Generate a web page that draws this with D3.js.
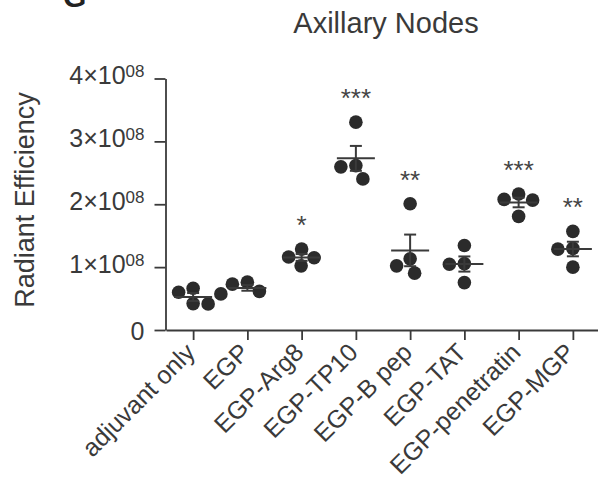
<!DOCTYPE html>
<html>
<head>
<meta charset="utf-8">
<script src="https://cdn.jsdelivr.net/npm/d3@7"></script>
<style>
  body { margin: 0; background: #fff; }
  text { font-family: "Liberation Sans", Arial, sans-serif; }
</style>
</head>
<body>
<svg id="chart" width="598" height="477"></svg>
<script>
// groups along the x axis
const groups = ['adjuvant only', 'EGP', 'EGP-Arg8', 'EGP-TP10', 'EGP-B pep', 'EGP-TAT', 'EGP-penetratin', 'EGP-MGP'];

// radiant efficiency, in units of 1e8
const adjuvantOnly = [0.665, 0.60, 0.42, 0.415];
const egp = [0.761, 0.729, 0.614, 0.574];
const egpArg8 = [1.287, 1.16, 1.15, 1.02];
const egpTP10 = [3.306, 2.615, 2.595, 2.403];
const egpBpep = [2.008, 1.132, 1.020, 0.904];
const egpTAT = [1.344, 1.055, 1.045, 0.754];
const egpPenetratin = [2.163, 2.078, 2.066, 1.807];
const egpMGP = [1.568, 1.298, 1.286, 1.0];

const groupValues = [adjuvantOnly, egp, egpArg8, egpTP10, egpBpep, egpTAT, egpPenetratin, egpMGP];
const stars = ['', '', '*', '***', '**', '', '***', '**'];

const yTicks = [0, 1, 2, 3, 4];
const exponent = '08';

const svg = d3.select('#chart');
const ink = '#3a3a3a';

const x = d3.scalePoint().domain(groups).range([166, 600]).padding(0.5);
const y = d3.scaleLinear().domain([0, 4]).range([330, 78.5]);

// panel letter (cut off at the top, as in the source figure)
svg.append('text')
  .attr('x', 63).attr('y', 7)
  .attr('font-size', 30).attr('font-weight', 'bold')
  .attr('fill', '#222')
  .text('G');

// title
svg.append('text')
  .attr('x', 386).attr('y', 33)
  .attr('text-anchor', 'middle')
  .attr('font-size', 29)
  .attr('fill', ink)
  .text('Axillary Nodes');

// y axis title
svg.append('text')
  .attr('transform', 'translate(34,200) rotate(-90)')
  .attr('text-anchor', 'middle')
  .attr('font-size', 27)
  .attr('fill', ink)
  .text('Radiant Efficiency');

// y axis
const yAxis = svg.append('g')
  .attr('transform', 'translate(165.5,0)')
  .call(d3.axisLeft(y).tickValues(yTicks).tickSize(11).tickSizeOuter(0).tickPadding(10));

yAxis.selectAll('text').each(function (d) {
  const t = d3.select(this);
  t.text(null).attr('dy', null).attr('font-size', 25).attr('fill', ink)
    .attr('font-family', '"Liberation Sans", Arial, sans-serif');
  if (d === 0) {
    t.attr('y', 9).text('0');
  } else {
    t.attr('y', 5);
    t.append('tspan').text(d + '\u00d710');
    t.append('tspan').attr('font-size', 17).attr('dy', -7).text(exponent);
  }
});

// x axis
const xAxis = svg.append('g')
  .attr('transform', 'translate(0,330)')
  .call(d3.axisBottom(x).tickSize(10).tickSizeOuter(0));

xAxis.selectAll('text')
  .attr('font-size', 25)
  .attr('fill', ink)
  .attr('font-family', '"Liberation Sans", Arial, sans-serif')
  .attr('text-anchor', 'end')
  .attr('dy', null)
  .attr('y', 0)
  .attr('transform', 'translate(3,24) rotate(-45)');

svg.selectAll('.domain, .tick line')
  .attr('stroke', ink)
  .attr('stroke-width', 1.8);

// simple beeswarm so points of similar value sit side by side
const r = 6.8;
const minDist = 15;
function swarm(vals) {
  const placed = [];
  const sorted = vals.slice().sort((a, b) => b - a);
  sorted.forEach(v => {
    const py = y(v);
    let off = 0;
    for (let k = 0; k < 200; k++) {
      const cands = k === 0 ? [0] : [-k * 0.5, k * 0.5];
      const ok = cands.find(c => placed.every(p => Math.hypot(p.dx - c, p.py - py) >= minDist));
      if (ok !== undefined) { off = ok; break; }
    }
    placed.push({ v: v, py: py, dx: off });
  });
  return placed;
}

const plot = svg.append('g');

groups.forEach((g, i) => {
  const vals = groupValues[i];
  const cx = x(g);
  const mean = d3.mean(vals);
  const sem = d3.deviation(vals) / Math.sqrt(vals.length);

  // points
  plot.append('g').selectAll('circle')
    .data(swarm(vals))
    .join('circle')
    .attr('cx', d => cx + d.dx)
    .attr('cy', d => d.py)
    .attr('r', r)
    .attr('fill', '#2b2b2b');

  // mean and SEM
  const bar = plot.append('g').attr('stroke', ink).attr('stroke-width', 2).attr('fill', 'none');
  bar.append('line')
    .attr('x1', cx - 19).attr('x2', cx + 19)
    .attr('y1', y(mean)).attr('y2', y(mean));
  bar.append('line')
    .attr('x1', cx).attr('x2', cx)
    .attr('y1', y(mean + sem)).attr('y2', y(mean - sem));
  [mean + sem, mean - sem].forEach(v => {
    bar.append('line')
      .attr('x1', cx - 6).attr('x2', cx + 6)
      .attr('y1', y(v)).attr('y2', y(v));
  });

  // significance
  if (stars[i]) {
    svg.append('text')
      .attr('x', cx)
      .attr('y', y(d3.max(vals)) - 30 + 15)
      .attr('text-anchor', 'middle')
      .attr('font-size', 26)
      .attr('fill', '#444')
      .text(stars[i]);
  }
});
</script>
</body>
</html>
